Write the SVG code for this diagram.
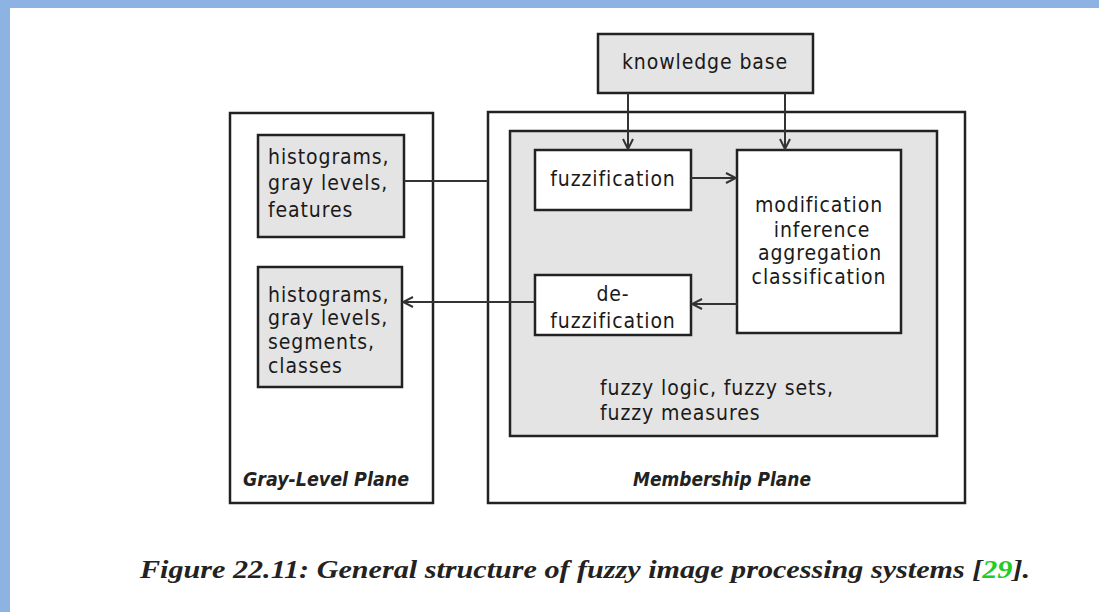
<svg xmlns="http://www.w3.org/2000/svg" width="1099" height="612" viewBox="0 0 1099 612">
<defs>
<style>
.box{stroke:#222;stroke-width:2.5}
.g{fill:#e4e4e4}
.w{fill:#fff}
.t{font-family:"DejaVu Sans Condensed","Liberation Sans",sans-serif;font-size:21px;letter-spacing:0.9px;fill:#1a1a1a}
.it{font-family:"DejaVu Sans Condensed","Liberation Sans",sans-serif;font-size:19px;font-style:italic;font-weight:bold;fill:#222}
.cap{font-family:"Liberation Serif",serif;font-size:26px;font-style:italic;font-weight:bold;fill:#222}
.c{fill:none;stroke:#333;stroke-width:2}
</style>
<marker id="ah" viewBox="0 0 12 12" refX="11" refY="6" markerWidth="12" markerHeight="12" markerUnits="userSpaceOnUse" orient="auto">
<path d="M1,1 L11,6 L1,11" fill="none" stroke="#333" stroke-width="2"/>
</marker>
</defs>
<rect x="0" y="0" width="1099" height="612" fill="#fff"/>
<rect x="0" y="0" width="1099" height="8" fill="#8db3e2"/>
<rect x="0" y="0" width="10" height="612" fill="#8db3e2"/>

<g id="gray-level-plane">
<rect class="box w" x="230" y="113" width="203" height="390"/>
<text class="it" x="243" y="486" textLength="166" lengthAdjust="spacingAndGlyphs">Gray-Level Plane</text>
</g>
<g id="membership-plane">
<rect class="box w" x="488" y="112" width="477" height="391"/>
<text class="it" x="633" y="486" textLength="178" lengthAdjust="spacingAndGlyphs">Membership Plane</text>
</g>
<g id="fuzzy-logic">
<rect class="box g" x="510" y="131" width="427" height="305"/>
<text class="t" x="600" y="395">fuzzy logic, fuzzy sets,</text>
<text class="t" x="600" y="420">fuzzy measures</text>
</g>
<g id="knowledge-base">
<rect class="box g" x="598" y="34" width="215" height="59"/>
<text class="t" x="705" y="69" text-anchor="middle">knowledge base</text>
</g>
<g id="input-features">
<rect class="box g" x="258" y="135" width="146" height="102"/>
<text class="t" x="268" y="164">histograms,</text>
<text class="t" x="268" y="190">gray levels,</text>
<text class="t" x="268" y="217">features</text>
</g>
<g id="output-classes">
<rect class="box g" x="258" y="267" width="144" height="120"/>
<text class="t" x="268" y="302">histograms,</text>
<text class="t" x="268" y="325">gray levels,</text>
<text class="t" x="268" y="349">segments,</text>
<text class="t" x="268" y="373">classes</text>
</g>
<g id="fuzzification">
<rect class="box w" x="535" y="150" width="156" height="60"/>
<text class="t" x="613" y="186" text-anchor="middle">fuzzification</text>
</g>
<g id="inference">
<rect class="box w" x="737" y="150" width="164" height="183"/>
<text class="t" x="819" y="212" text-anchor="middle">modification</text>
<text class="t" x="822" y="237" text-anchor="middle">inference</text>
<text class="t" x="820" y="260" text-anchor="middle">aggregation</text>
<text class="t" x="819" y="284" text-anchor="middle">classification</text>
</g>
<g id="defuzzification">
<rect class="box w" x="535" y="275" width="156" height="60"/>
<text class="t" x="613" y="301" text-anchor="middle">de-</text>
<text class="t" x="613" y="328" text-anchor="middle">fuzzification</text>
</g>

<g id="connectors">
<line class="c" x1="628" y1="93" x2="628" y2="149" marker-end="url(#ah)"/>
<line class="c" x1="785" y1="93" x2="785" y2="149" marker-end="url(#ah)"/>
<line class="c" x1="404" y1="181" x2="488" y2="181" stroke="#555" stroke-width="2.5"/>
<line class="c" x1="691" y1="178" x2="736" y2="178" marker-end="url(#ah)"/>
<line class="c" x1="737" y1="304" x2="692" y2="304" marker-end="url(#ah)"/>
<line class="c" x1="535" y1="302" x2="403" y2="302" stroke="#666" stroke-width="3" marker-end="url(#ah)"/>
</g>

<text class="cap" x="140" y="578" textLength="890" lengthAdjust="spacingAndGlyphs">Figure 22.11: General structure of fuzzy image processing systems [<tspan fill="#22cc22">29</tspan>].</text>
</svg>
